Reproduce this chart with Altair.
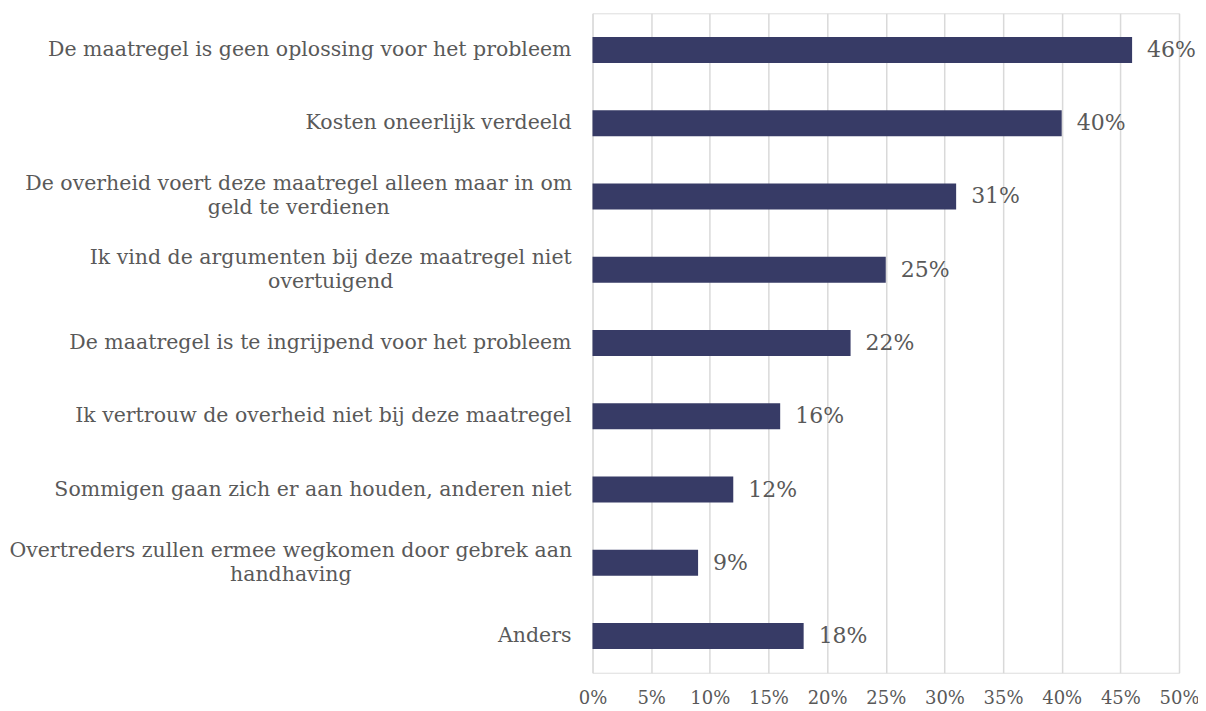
import altair as alt
import pandas as pd

categories = [
    "De maatregel is geen oplossing voor het probleem",
    "Kosten oneerlijk verdeeld ",
    "De overheid voert deze maatregel alleen maar in om|geld te verdienen",
    "Ik vind de argumenten bij deze maatregel niet|overtuigend",
    "De maatregel is te ingrijpend voor het probleem",
    "Ik vertrouw de overheid niet bij deze maatregel",
    "Sommigen gaan zich er aan houden, anderen niet ",
    "Overtreders zullen ermee wegkomen door gebrek aan|handhaving",
    "Anders",
]
values = [0.46, 0.40, 0.31, 0.25, 0.22, 0.16, 0.12, 0.09, 0.18]
x_ticks = [0, 0.05, 0.10, 0.15, 0.20, 0.25, 0.30, 0.35, 0.40, 0.45, 0.50]

df = pd.DataFrame({"cat": categories, "val": values})

FONT = "DejaVu Serif"
TXT = "#595959"
BAR = "#373b66"
FS = 20.5
VFS = 22

# horizontal anchor of each category label (two-line labels are centred
# under their first line, as in the original)
anchor = {
    categories[2]: -294,
    categories[3]: -262,
    categories[7]: -302,
}
dx_expr = "".join(
    f"datum.cat === {repr(k)} ? {v} : " for k, v in anchor.items()
) + "-21"
multi = "indexof(datum.cat, '|') >= 0"

y = alt.Y(
    "cat:N",
    sort=categories,
    title=None,
    scale=alt.Scale(paddingInner=0.645, paddingOuter=0.3225),
    axis=None,
)
x = alt.X(
    "val:Q",
    title=None,
    scale=alt.Scale(domain=[0, 0.5], nice=False),
    axis=alt.Axis(
        values=x_ticks,
        format=".0%",
        domain=False,
        ticks=False,
        grid=True,
        gridColor="#d9d9d9",
        gridWidth=1.5,
        labelFont=FONT,
        labelFontSize=18,
        labelColor=TXT,
        labelPadding=17,
        labelOverlap=False,
        labelFlush=False,
        labelBound=False,
    ),
)

base = alt.Chart(df)
bars = base.mark_bar(color=BAR).encode(x=x, y=y)
values_txt = base.mark_text(
    align="left", baseline="middle", dx=15, font=FONT, fontSize=VFS, color=TXT
).encode(x="val:Q", y=alt.Y("cat:N", sort=categories), text=alt.Text("val:Q", format=".0%"))
cat_txt = base.mark_text(
    baseline="middle",
    font=FONT,
    fontSize=FS,
    color=TXT,
    lineBreak="|",
    lineHeight=24,
    align=alt.expr(f"{multi} ? 'center' : 'right'"),
    dx=alt.expr(dx_expr),
    dy=alt.expr(f"{multi} ? -12 : 0"),
).encode(x=alt.value(0), y=alt.Y("cat:N", sort=categories), text="cat:N")

chart = (
    alt.layer(bars, values_txt, cat_txt)
    .properties(
        width=587,
        height=660,
        autosize=alt.AutoSizeParams(type="none"),
        padding={"left": 585, "top": 5, "right": 19, "bottom": 38},
    )
    .configure_view(strokeOpacity=0, strokeWidth=0)
    .configure(background="white")
)

chart.save("out.html", embed_options={"renderer": "svg", "actions": False})
